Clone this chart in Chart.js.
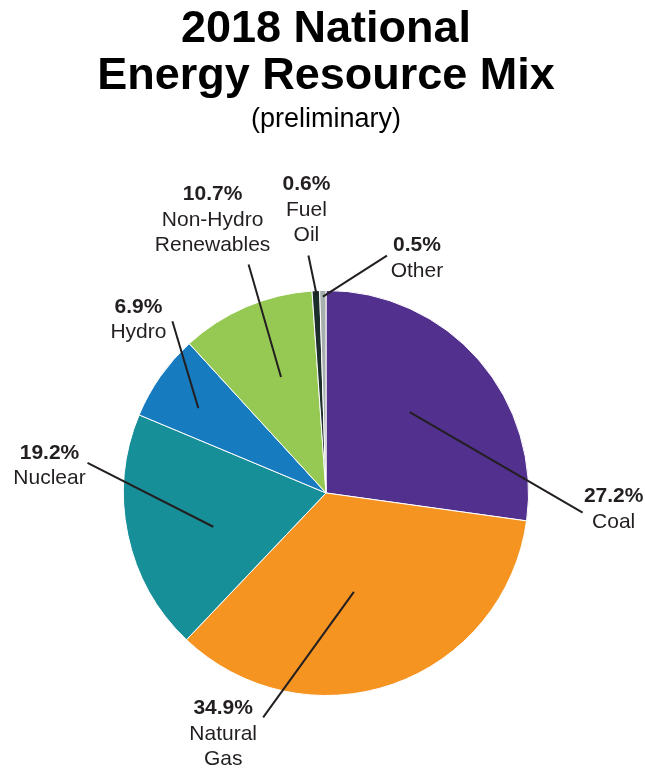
<!DOCTYPE html>
<html>
<head>
<meta charset="utf-8">
<script src="https://cdn.jsdelivr.net/npm/chart.js@4.4.1/dist/chart.umd.min.js"></script>
<style>
  html, body { margin: 0; padding: 0; background: #fff; }
  #wrap { width: 645px; height: 769px; }
</style>
</head>
<body>
<div id="wrap"><canvas id="pieChart"></canvas></div>
<script>
const categories = ["Coal", "Natural Gas", "Nuclear", "Hydro", "Non-Hydro Renewables", "Fuel Oil", "Other"];
const shares = [27.2, 34.9, 19.2, 6.9, 10.7, 0.6, 0.5];
const labelLines = [["Coal"], ["Natural", "Gas"], ["Nuclear"], ["Hydro"], ["Non-Hydro", "Renewables"], ["Fuel", "Oil"], ["Other"]];
const colors = ["#52308e", "#f59421", "#168f98", "#177bbf", "#96c954", "#1c2e2c", "#a7aeae"];

// leader lines: angle offset (deg) from slice middle + radius fraction, text offset from outer end
const callouts = [
	{ inA: -3, inR: 0.575, outA: 45.4, outR: 1.271, dx: 31, dy: -16 },
	{ inA: 3.5, inR: 0.507, outA: 34.9, outR: 1.151, dx: -40, dy: -9 },
	{ inA: -4.8, inR: 0.581, outA: 19.1, outR: 1.187, dx: -38, dy: -10 },
	{ inA: -1.5, inR: 0.757, outA: 13.1, outR: 1.138, dx: -34, dy: -14 },
	{ inA: 2, inR: 0.614, outA: 4.5, outR: 1.191, dx: -36, dy: -70 },
	{ inA: 0.2, inR: 0.976, outA: -1.35, outR: 1.176, dx: -2, dy: -71 },
	{ inA: 0, inR: 0.97, outA: 15.3, outR: 1.21, dx: 30, dy: -10 },
];

const calloutPlugin = {
	id: "callouts",
	afterDatasetsDraw(chart) {
		const ctx = chart.ctx;
		const arcs = chart.getDatasetMeta(0).data;
		ctx.save();
		ctx.strokeStyle = "#231f20";
		ctx.fillStyle = "#231f20";
		ctx.lineWidth = 2;
		ctx.textAlign = "center";
		ctx.textBaseline = "middle";
		arcs.forEach((arc, i) => {
			const c = callouts[i];
			const mid = (arc.startAngle + arc.endAngle) / 2;
			const R = arc.outerRadius;
			const a1 = mid + c.inA * Math.PI / 180;
			const a2 = mid + c.outA * Math.PI / 180;
			const x1 = arc.x + Math.cos(a1) * R * c.inR;
			const y1 = arc.y + Math.sin(a1) * R * c.inR;
			const x2 = arc.x + Math.cos(a2) * R * c.outR;
			const y2 = arc.y + Math.sin(a2) * R * c.outR;
			ctx.beginPath();
			ctx.moveTo(x1, y1);
			ctx.lineTo(x2, y2);
			ctx.stroke();

			const tx = x2 + c.dx;
			let ty = y2 + c.dy;
			ctx.font = "bold 21px 'Liberation Sans', Arial, sans-serif";
			ctx.fillText(shares[i].toFixed(1) + "%", tx, ty);
			ctx.font = "21px 'Liberation Sans', Arial, sans-serif";
			labelLines[i].forEach((line) => {
				ty += 25.5;
				ctx.fillText(line, tx, ty);
			});
		});
		ctx.restore();
	},
};

const ctx = document.getElementById("pieChart").getContext("2d");

const pieChart = new Chart(ctx, {
	type: "pie",
	data: {
		labels: categories,
		datasets: [
			{
				data: shares,
				backgroundColor: colors,
				borderColor: "#ffffff",
				borderWidth: 1,
			},
		],
	},
	options: {
		responsive: true,
		maintainAspectRatio: false,
		animation: false,
		layout: {
			padding: { top: 0, left: 7, right: 0, bottom: 73 },
		},
		plugins: {
			legend: { display: false },
			tooltip: { enabled: false },
			title: {
				display: true,
				text: ["2018 National", "Energy Resource Mix"],
				color: "#000",
				font: { family: "'Liberation Sans', Arial, sans-serif", size: 45, weight: "bold", lineHeight: 1.044 },
				padding: { top: 6, bottom: 0 },
			},
			subtitle: {
				display: true,
				text: "(preliminary)",
				color: "#000",
				font: { family: "'Liberation Sans', Arial, sans-serif", size: 27, weight: "normal", lineHeight: 1.2 },
				padding: { top: 3, bottom: 154.6 },
			},
		},
	},
	plugins: [calloutPlugin],
});
</script>
</body>
</html>
